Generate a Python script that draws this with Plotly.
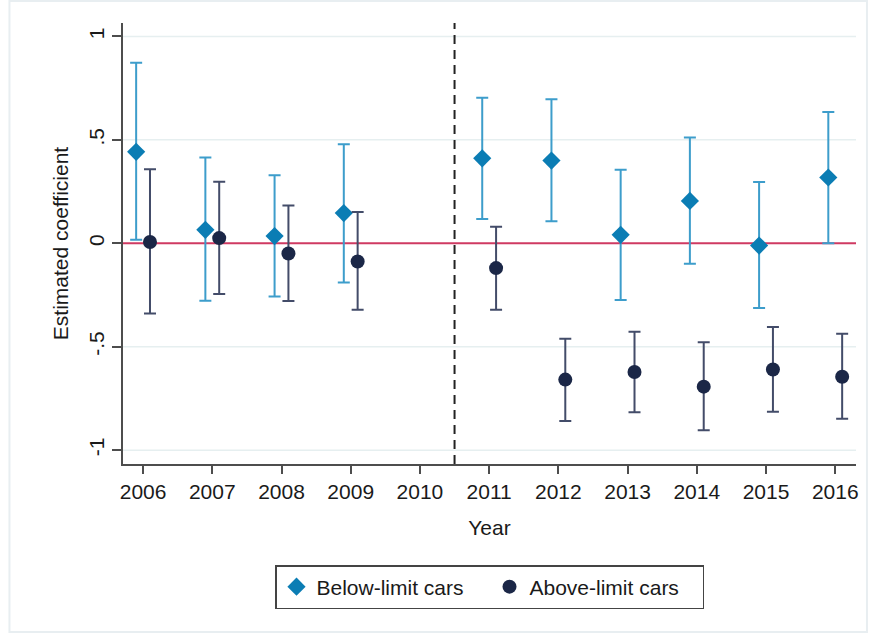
import plotly.graph_objects as go

# Event-study estimates by year (2010 is the omitted reference year)
years = [2006, 2007, 2008, 2009, 2011, 2012, 2013, 2014, 2015, 2016]
tick_years = [2006, 2007, 2008, 2009, 2010, 2011, 2012, 2013, 2014, 2015, 2016]

below_coef = [0.442, 0.065, 0.035, 0.146, 0.411, 0.400, 0.041, 0.205, -0.011, 0.318]
below_lo = [0.017, -0.278, -0.257, -0.189, 0.118, 0.107, -0.274, -0.099, -0.313, 0.000]
below_hi = [0.873, 0.415, 0.329, 0.479, 0.704, 0.696, 0.355, 0.511, 0.296, 0.635]

above_coef = [0.006, 0.025, -0.049, -0.088, -0.120, -0.659, -0.622, -0.693, -0.610, -0.645]
above_lo = [-0.339, -0.245, -0.279, -0.321, -0.321, -0.859, -0.817, -0.904, -0.814, -0.848]
above_hi = [0.358, 0.297, 0.183, 0.151, 0.080, -0.461, -0.428, -0.479, -0.405, -0.437]

y_ticks = [-1, -0.5, 0, 0.5, 1]
y_tick_text = ["-1", "-.5", "0", ".5", "1"]

FONT = "Liberation Sans, Arial, Helvetica, sans-serif"
W, H = 871, 635
ML, MR, MT, MB = 123, 12, 23, 171
PW, PH = W - ML - MR, H - MT - MB


def paper_y(py):
    """Convert a pixel row of the page to paper y."""
    return (MT + PH - py) / PH


def paper_x(px):
    """Convert a pixel column of the page to paper x."""
    return (px - ML) / PW


BELOW_MARK = "#0b7db4"
BELOW_BAR = "#3d9dcb"
ABOVE_MARK = "#1b2747"
ABOVE_BAR = "#434c69"
ZERO_LINE = "#cf3a62"
GRID = "#e6eff0"

fig = go.Figure()

fig.add_trace(go.Scatter(
    x=[y - 0.1 for y in years],
    y=below_coef,
    mode="markers",
    name="Below-limit cars",
    marker=dict(symbol="diamond", size=14, color=BELOW_MARK),
    error_y=dict(
        type="data",
        array=[h - c for h, c in zip(below_hi, below_coef)],
        arrayminus=[c - l for c, l in zip(below_coef, below_lo)],
        color=BELOW_BAR, thickness=2, width=6,
    ),
))

fig.add_trace(go.Scatter(
    x=[y + 0.1 for y in years],
    y=above_coef,
    mode="markers",
    name="Above-limit cars",
    marker=dict(symbol="circle", size=14, color=ABOVE_MARK),
    error_y=dict(
        type="data",
        array=[h - c for h, c in zip(above_hi, above_coef)],
        arrayminus=[c - l for c, l in zip(above_coef, above_lo)],
        color=ABOVE_BAR, thickness=2, width=6,
    ),
))

# light frame around the whole graph region
fig.add_shape(type="rect", xref="paper", yref="paper",
              x0=paper_x(9), x1=paper_x(870),
              y0=paper_y(632), y1=paper_y(1),
              line=dict(color="#e8eef1", width=2), fillcolor="rgba(0,0,0,0)", layer="below")

# horizontal grid at the non-zero ticks (zero gets its own reference line)
for v in y_ticks:
    if v != 0:
        fig.add_shape(type="line", xref="x domain", yref="y", x0=0, x1=1, y0=v, y1=v,
                      line=dict(color=GRID, width=1.5), layer="below")

# zero reference line and policy-change marker between 2010 and 2011
fig.add_shape(type="line", xref="x domain", yref="y", x0=0, x1=1, y0=0, y1=0,
              line=dict(color=ZERO_LINE, width=2), layer="below")
fig.add_shape(type="line", xref="x", yref="y domain", x0=2010.5, x1=2010.5, y0=0, y1=1,
              line=dict(color="#222222", width=2, dash="9px,6px"), layer="below")

fig.update_layout(
    width=W, height=H,
    margin=dict(l=ML, r=MR, t=MT, b=MB, pad=0),
    paper_bgcolor="white", plot_bgcolor="white",
    font=dict(family=FONT, size=21, color="#1a1a1a"),
    showlegend=True,
    legend=dict(
        orientation="h", x=0.5, xanchor="center",
        y=paper_y(565), yanchor="top",
        bordercolor="#444444", borderwidth=1.5, bgcolor="white",
        font=dict(family=FONT, size=21, color="#1a1a1a"),
        entrywidth=168,
    ),
    xaxis=dict(
        range=[2005.71, 2016.30],
        tickmode="array", tickvals=tick_years, ticktext=[str(t) for t in tick_years],
        ticks="outside", ticklen=8, tickwidth=1.5, tickcolor="#4d4d4d",
        showline=True, linecolor="#4d4d4d", linewidth=1.5,
        showgrid=False, zeroline=False,
        title=dict(text="Year", standoff=18, font=dict(size=21)),
        tickfont=dict(size=21),
    ),
    yaxis=dict(
        range=[-1.067, 1.065],
        tickmode="array", tickvals=y_ticks, ticktext=y_tick_text,
        tickangle=-90,
        ticks="outside", ticklen=9, tickwidth=1.5, tickcolor="#4d4d4d",
        showline=True, linecolor="#4d4d4d", linewidth=1.5,
        showgrid=False, zeroline=False,
        title=dict(text="Estimated coefficient", standoff=10, font=dict(size=21)),
        tickfont=dict(size=21),
    ),
)

fig.write_html("out.html")
